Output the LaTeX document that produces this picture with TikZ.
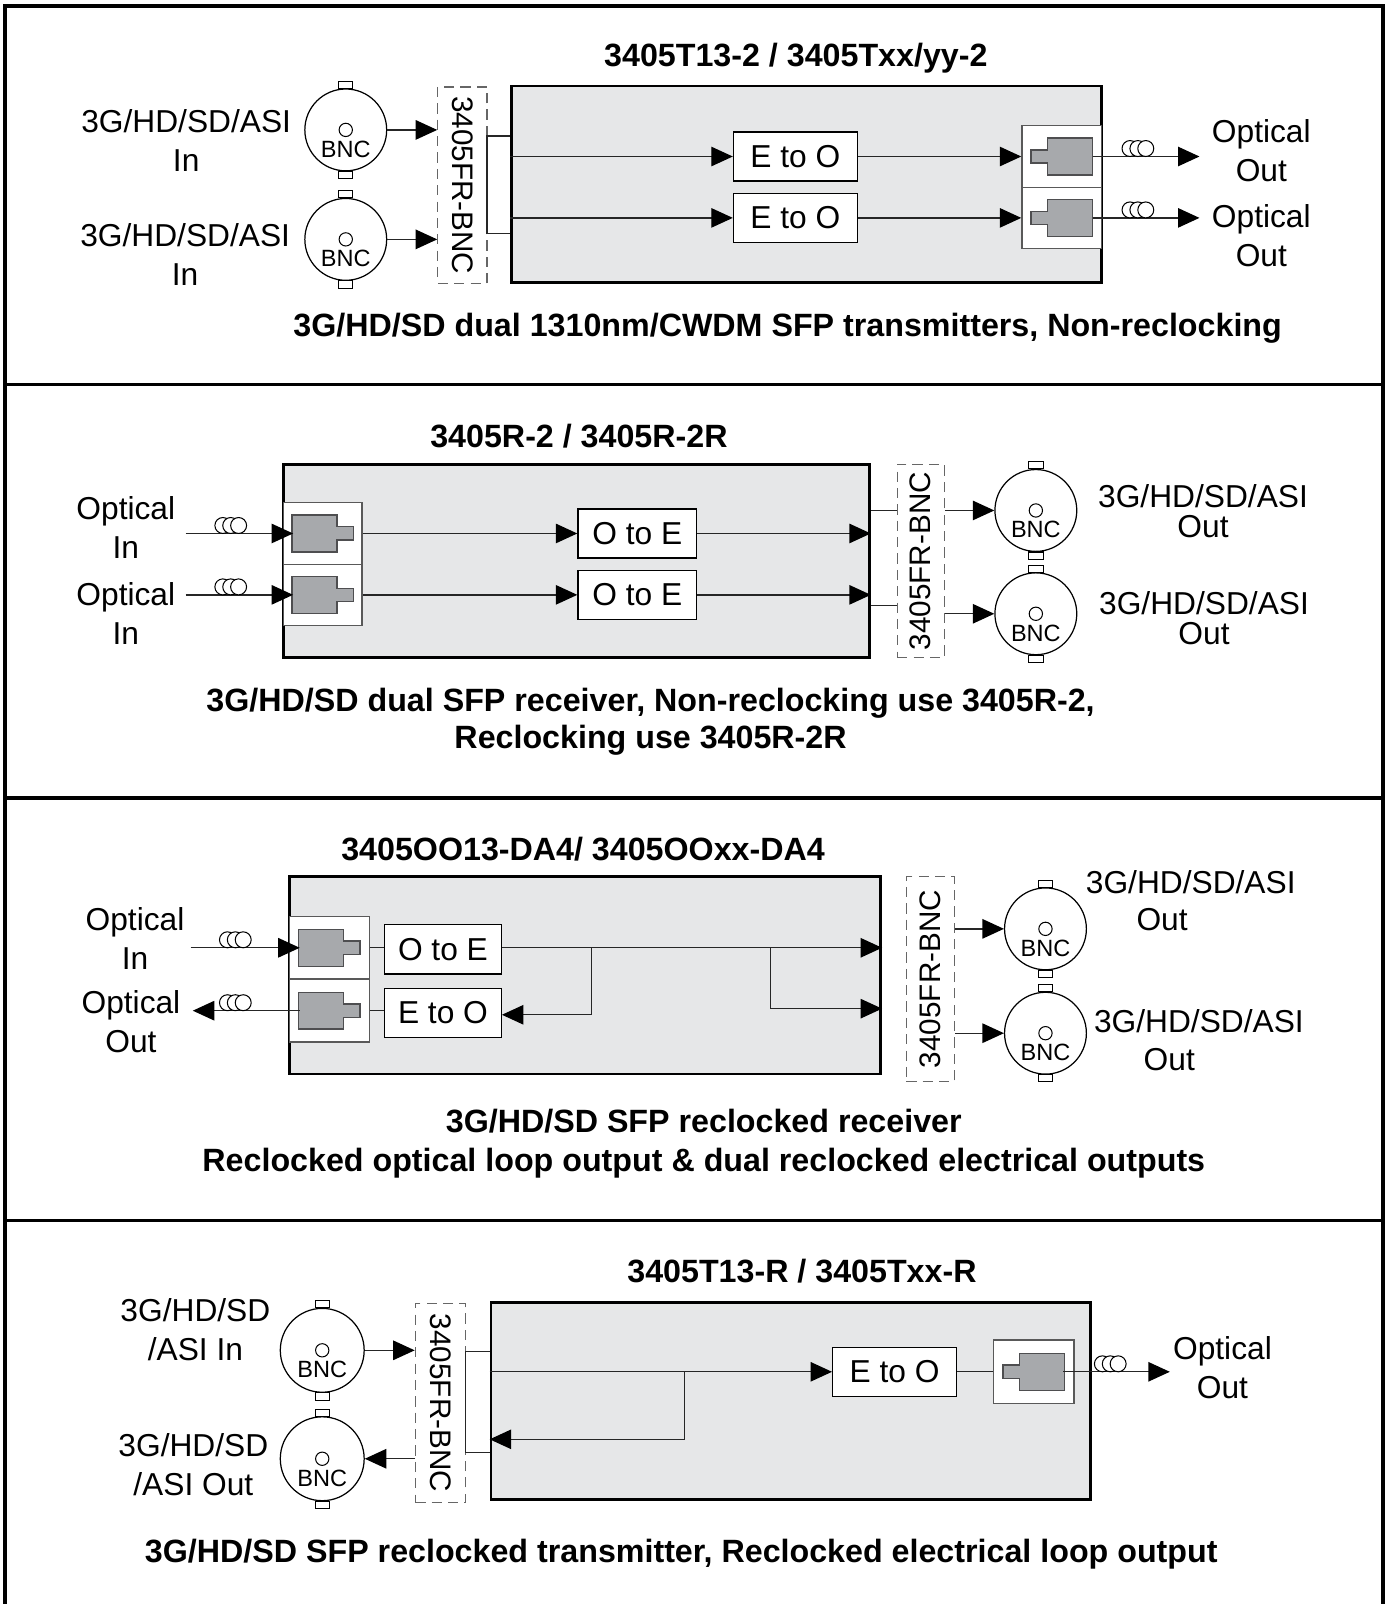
\documentclass[tikz,border=0pt]{standalone}
\usepackage{fontspec}
\setmainfont{Liberation Sans}
\usetikzlibrary{arrows.meta, positioning, calc}

\definecolor{boxgray}{RGB}{230,231,232}
\definecolor{icongray}{RGB}{167,169,172}
\definecolor{icondark}{RGB}{78,78,80}

\begin{document}
\begin{tikzpicture}[
    x=1pt, y=-1pt,
    txt/.style={inner sep=0pt, align=center, font=\fontsize{31}{38}\selectfont},
    headtxt/.style={txt, font=\fontsize{31.5}{38}\selectfont\bfseries},
    dev/.style={rectangle, draw, line width=2.6pt, fill=boxgray},
    frbox/.style={rectangle, draw=black!60, line width=1.2pt, dash pattern=on 10pt off 6pt},
    frtext/.style={inner sep=0pt, font=\fontsize{29}{34}\selectfont},
    bnc/.style={circle, draw, line width=1.2pt, fill=white, minimum size=80pt, inner sep=0pt},
    bnctext/.style={inner sep=0pt, font=\fontsize{23}{27}\selectfont},
    conv/.style={rectangle, draw, fill=white, line width=1.3pt, minimum width=118pt, minimum height=48pt, inner sep=0pt, font=\fontsize{31}{38}\selectfont},
    sfpcell/.style={rectangle, draw=black!65, fill=white, line width=1.3pt, minimum width=78pt, minimum height=60pt, inner sep=0pt},
    link/.style={draw=black!85, line width=1.3pt},
    arrow/.style={link, -{Triangle[length=21pt, width=19pt, black]}},
    sfp/.pic={\draw[fill=icongray, draw=icondark, line width=1.3pt] (-30,-6.5) -- (-14,-6.5) -- (-14,-18) -- (30,-18) -- (30,18) -- (-14,18) -- (-14,6.5) -- (-30,6.5) -- cycle;},
    coil/.pic={\foreach \k in {0,1,2} \draw[fill=white, line width=1pt] (7.7*\k,-7.8) circle [radius=7.8pt];}
]
    \useasboundingbox (0,0) rectangle (1357,1568);

    % Frame
    \draw[line width=3.2pt] (5,1568) -- (5,6) -- (1352,6) -- (1352,1568);
    \foreach \yy in {376,780,1193}
        \draw[line width=3.2pt] (5,\yy) -- (1352,\yy);

    % Panel 1: dual transmitter
    \node[headtxt] (head1) at (778,57) {3405T13-2 / 3405Txx/yy-2};
    \node[dev, minimum width=577pt, minimum height=192pt] (tx1) at (788.5,180) {};
    \node[frbox, minimum width=48pt, minimum height=192pt] (fr1) at (452,181) {};
    \node[frtext, rotate=-90] (fr1t) at (fr1) {3405FR-BNC};
    \node[bnc] (bnc1a) at (338,127) {};
    \node[bnc] (bnc1b) at (338,234) {};
    \node[txt] (in1a) at (182,137) {3G/HD/SD/ASI\\In};
    \node[txt] (in1b) at (181,249) {3G/HD/SD/ASI\\In};
    \node[conv, minimum width=121pt] (eo1a) at (777.5,153) {E to O};
    \node[conv, minimum width=121pt] (eo1b) at (777.5,213) {E to O};
    \node[sfpcell] (sfp1a) at (1038,153) {};
    \node[sfpcell] (sfp1b) at (1038,213) {};
    \pic at (sfp1a) {sfp};
    \pic at (sfp1b) {sfp};
    \node[txt] (out1a) at (1233,147) {Optical\\Out};
    \node[txt] (out1b) at (1233,230) {Optical\\Out};
    \node[headtxt] (cap1) at (770,321) {3G/HD/SD dual 1310nm/CWDM SFP transmitters, Non-reclocking};

    \draw[arrow] (bnc1a.east) -- (fr1.west |- bnc1a);
    \draw[arrow] (bnc1b.east) -- (fr1.west |- bnc1b);
    \coordinate (k1a) at (476,133);
    \coordinate (k1b) at (476,228);
    \draw[link] (tx1.west |- k1a) -- (k1a) -- (k1b) -- (tx1.west |- k1b);
    \draw[arrow] (tx1.west |- eo1a) -- (eo1a.west);
    \draw[arrow] (tx1.west |- eo1b) -- (eo1b.west);
    \draw[arrow] (eo1a.east) -- (sfp1a.west);
    \draw[arrow] (eo1b.east) -- (sfp1b.west);
    \draw[arrow] ([xshift=30pt]sfp1a.center) -- ([xshift=-12pt]out1a.west |- sfp1a);
    \draw[arrow] ([xshift=30pt]sfp1b.center) -- ([xshift=-12pt]out1b.west |- sfp1b);
    \pic at ([xshift=27pt]sfp1a.east) {coil};
    \pic at ([xshift=27pt]sfp1b.east) {coil};

    % Panel 2: dual receiver
    \node[headtxt] (head2) at (566,426) {3405R-2 / 3405R-2R};
    \node[dev, minimum width=573pt, minimum height=189pt] (rx2) at (563.5,548.5) {};
    \node[sfpcell, minimum width=77pt] (sfp2a) at (315.5,521.5) {};
    \node[sfpcell, minimum width=77pt] (sfp2b) at (315.5,581.5) {};
    \pic[xscale=-1] at (sfp2a) {sfp};
    \pic[xscale=-1] at (sfp2b) {sfp};
    \node[conv, minimum width=116pt] (oe2a) at (623,521.5) {O to E};
    \node[conv, minimum width=116pt] (oe2b) at (623,581.5) {O to E};
    \node[frbox, minimum width=46pt, minimum height=189pt] (fr2) at (900,548.5) {};
    \node[frtext, rotate=90] (fr2t) at (fr2) {3405FR-BNC};
    \node[bnc] (bnc2a) at (1012.6,499) {};
    \node[bnc] (bnc2b) at (1012.6,600) {};
    \node[txt] (opt2a) at (123,516) {Optical\\In};
    \node[txt] (opt2b) at (123,600) {Optical\\In};
    \node[txt, font=\fontsize{31}{29}\selectfont] (out2a) at (1176,499.5) {3G/HD/SD/ASI\\Out};
    \node[txt, font=\fontsize{31}{29}\selectfont] (out2b) at (1177,604.5) {3G/HD/SD/ASI\\Out};
    \node[headtxt, font=\fontsize{31.5}{37}\selectfont\bfseries] (cap2) at (636,705.5) {3G/HD/SD dual SFP receiver, Non-reclocking use 3405R-2,\\Reclocking use 3405R-2R};

    \draw[arrow] ([xshift=10pt]opt2a.east |- sfp2a) -- ([xshift=-29pt]sfp2a.center);
    \draw[arrow] ([xshift=10pt]opt2b.east |- sfp2b) -- ([xshift=-29pt]sfp2b.center);
    \pic at ([xshift=-58.5pt]sfp2a.west) {coil};
    \pic at ([xshift=-58.5pt]sfp2b.west) {coil};
    \draw[arrow] (sfp2a.east) -- (oe2a.west);
    \draw[arrow] (sfp2b.east) -- (oe2b.west);
    \draw[arrow] (oe2a.east) -- (rx2.east |- oe2a);
    \draw[arrow] (oe2b.east) -- (rx2.east |- oe2b);
    \draw[link] (rx2.east |- bnc2a) -- (fr2.west |- bnc2a);
    \draw[link] ([yshift=8pt]rx2.east |- bnc2b) -- ([yshift=8pt]fr2.west |- bnc2b);
    \draw[arrow] (fr2.east |- bnc2a) -- (bnc2a.west);
    \draw[arrow] (fr2.east |- bnc2b) -- (bnc2b.west);

    % Panel 3: reclocked receiver with loop
    \node[headtxt] (head3) at (570,830) {3405OO13-DA4/ 3405OOxx-DA4};
    \node[dev, minimum width=578pt, minimum height=193pt] (rx3) at (572,953.5) {};
    \node[sfpcell, minimum height=61pt] (sfp3a) at (322,926.5) {};
    \node[sfpcell, minimum height=61pt] (sfp3b) at (322,988) {};
    \pic[xscale=-1] at (sfp3a) {sfp};
    \pic[xscale=-1] at (sfp3b) {sfp};
    \node[conv, minimum width=114pt] (oe3a) at (433,928) {O to E};
    \node[conv, minimum width=114pt] (eo3b) at (433,990) {E to O};
    \node[frbox, minimum width=47pt, minimum height=200pt] (fr3) at (909.5,957) {};
    \node[frtext, rotate=90] (fr3t) at (fr3) {3405FR-BNC};
    \node[bnc] (bnc3a) at (1022,908) {};
    \node[bnc] (bnc3b) at (1022,1010) {};
    \node[txt] (opt3a) at (132,917.5) {Optical\\In};
    \node[txt] (opt3b) at (128,999) {Optical\\Out};
    \node[txt] (out3a) at (1164,862) {3G/HD/SD/ASI};
    \node[txt] (out3a2) at (1136,899) {Out};
    \node[txt] (out3b) at (1172,998) {3G/HD/SD/ASI};
    \node[txt] (out3b2) at (1143,1036) {Out};
    \node[headtxt] (cap3) at (688,1118) {3G/HD/SD SFP reclocked receiver\\Reclocked optical loop output \& dual reclocked electrical outputs};

    \draw[arrow] ([xshift=6pt]opt3a.east |- sfp3a) -- ([xshift=-29pt]sfp3a.center);
    \draw[arrow] ([xshift=-29pt]sfp3b.center) -- ([xshift=12pt]opt3b.east |- sfp3b);
    \pic at ([xshift=-60pt]sfp3a.west) {coil};
    \pic at ([xshift=-60pt]sfp3b.west) {coil};
    \draw[link] (sfp3a.east) -- (oe3a.west |- sfp3a);
    \draw[link] (sfp3b.east) -- (eo3b.west |- sfp3b);
    \coordinate (j3a) at (578,926.5);
    \coordinate (j3b) at (753,926.5);
    \draw[arrow] (oe3a.east |- j3a) -- (rx3.east |- j3a);
    \draw[arrow] (j3a) |- ([yshift=-2pt]eo3b.east);
    \draw[arrow] (j3b) |- ([yshift=4pt]rx3.east |- eo3b);
    \draw[arrow] (fr3.east |- bnc3a) -- (bnc3a.west);
    \draw[arrow] (fr3.east |- bnc3b) -- (bnc3b.west);

    % Panel 4: reclocked transmitter with loop
    \node[headtxt] (head4) at (784,1243) {3405T13-R / 3405Txx-R};
    \node[dev, minimum width=586pt, minimum height=193pt] (tx4) at (773,1369.5) {};
    \node[frbox, minimum width=49pt, minimum height=195pt] (fr4) at (430.5,1371.5) {};
    \node[frtext, rotate=-90] (fr4t) at (fr4) {3405FR-BNC};
    \node[bnc, minimum size=82pt] (bnc4a) at (315,1320) {};
    \node[bnc, minimum size=82pt] (bnc4b) at (315,1426) {};
    \node[conv, minimum width=121pt] (eo4) at (874.5,1341) {E to O};
    \node[sfpcell, minimum width=79pt, minimum height=62pt] (sfp4) at (1010.5,1341) {};
    \pic at (sfp4) {sfp};
    \node[txt] (in4a) at (191,1300) {3G/HD/SD\\/ASI In};
    \node[txt] (in4b) at (189,1432) {3G/HD/SD\\/ASI Out};
    \node[txt] (out4) at (1195,1337) {Optical\\Out};
    \node[headtxt] (cap4) at (666,1519) {3G/HD/SD SFP reclocked transmitter, Reclocked electrical loop output};

    \draw[arrow] (bnc4a.east) -- (fr4.west |- bnc4a);
    \draw[arrow] (fr4.west |- bnc4b) -- (bnc4b.east);
    \coordinate (k4a) at (455,1321);
    \coordinate (k4b) at (455,1420);
    \draw[link] (tx4.west |- k4a) -- (k4a) -- (k4b) -- (tx4.west |- k4b);
    \draw[arrow] (tx4.west |- eo4) -- (eo4.west);
    \coordinate (j4) at (669,1341);
    \draw[arrow] (j4) |- ([yshift=-66pt]tx4.west |- eo4);
    \draw[link] (eo4.east) -- (sfp4.west);
    \draw[arrow] ([xshift=29pt]sfp4.center) -- ([xshift=-3pt]out4.west |- sfp4);
    \pic at ([xshift=27pt]sfp4.east) {coil};

    % BNC connector details
    \foreach \b in {bnc1a,bnc1b,bnc2a,bnc2b,bnc3a,bnc3b,bnc4a,bnc4b} {
        \draw[fill=white, line width=1pt] ([xshift=-7pt]\b.north) rectangle ([xshift=7pt, yshift=7pt]\b.north);
        \draw[fill=white, line width=1pt] ([xshift=-7pt]\b.south) rectangle ([xshift=7pt, yshift=-7pt]\b.south);
        \draw[line width=1pt] (\b.center) circle [radius=6.5pt];
        \node[bnctext] (\b-t) at ([yshift=-19pt]\b.center) {BNC};
    }

\end{tikzpicture}
\end{document}
